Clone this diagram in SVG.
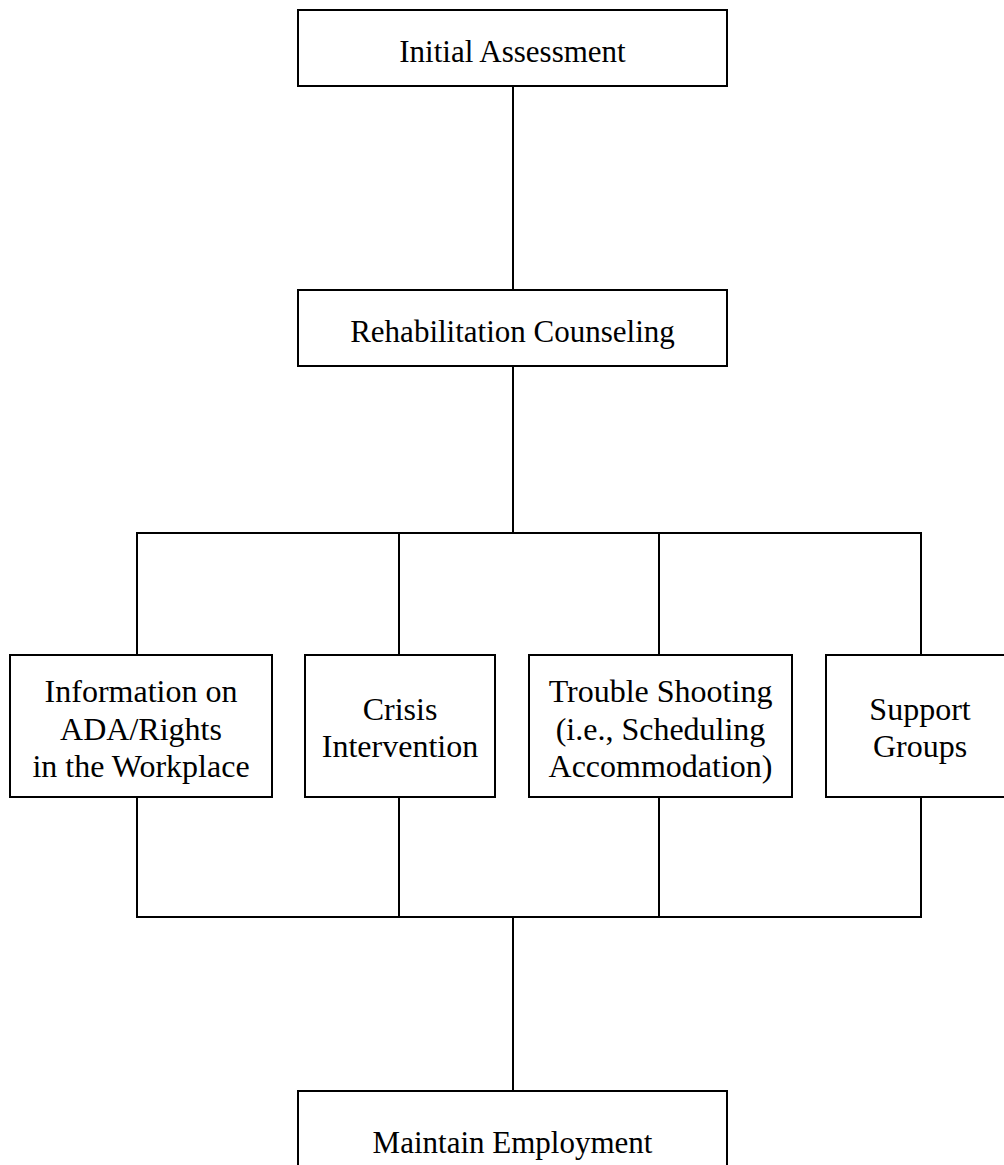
<svg xmlns="http://www.w3.org/2000/svg" width="1004" height="1165" viewBox="0 0 1004 1165">
<style>
.box{fill:#fff;stroke:#000;stroke-width:2}
.ln{stroke:#000;stroke-width:2;fill:none}
text{font-family:"Liberation Serif","Times New Roman",serif;font-size:31px;fill:#000;text-anchor:middle}
.sm{font-size:32px}
</style>
<rect width="1004" height="1165" fill="#fff"/>
<g id="connectors">
<line class="ln" x1="513" y1="86" x2="513" y2="290"/>
<line class="ln" x1="513" y1="366" x2="513" y2="533"/>
<polyline class="ln" points="137,655 137,533 921,533 921,655"/>
<line class="ln" x1="399" y1="533" x2="399" y2="655"/>
<line class="ln" x1="659" y1="533" x2="659" y2="655"/>
<polyline class="ln" points="137,797 137,917 921,917 921,797"/>
<line class="ln" x1="399" y1="797" x2="399" y2="917"/>
<line class="ln" x1="659" y1="797" x2="659" y2="917"/>
<line class="ln" x1="513" y1="917" x2="513" y2="1091"/>
</g>
<g id="initial-assessment">
<rect class="box" x="298" y="10" width="429" height="76"/>
<text x="512.5" y="62">Initial Assessment</text>
</g>
<g id="rehabilitation-counseling">
<rect class="box" x="298" y="290" width="429" height="76"/>
<text x="512.5" y="342">Rehabilitation Counseling</text>
</g>
<g id="information-ada">
<rect class="box" x="10" y="655" width="262" height="142"/>
<text class="sm" x="141" y="702">Information on</text>
<text class="sm" x="141" y="740">ADA/Rights</text>
<text class="sm" x="141" y="777">in the Workplace</text>
</g>
<g id="crisis-intervention">
<rect class="box" x="305" y="655" width="190" height="142"/>
<text class="sm" x="400" y="720">Crisis</text>
<text class="sm" x="400" y="757">Intervention</text>
</g>
<g id="trouble-shooting">
<rect class="box" x="529" y="655" width="263" height="142"/>
<text class="sm" x="660.5" y="702">Trouble Shooting</text>
<text class="sm" x="660.5" y="740">(i.e., Scheduling</text>
<text class="sm" x="660.5" y="777">Accommodation)</text>
</g>
<g id="support-groups">
<rect class="box" x="826" y="655" width="190" height="142"/>
<text class="sm" x="920" y="720">Support</text>
<text class="sm" x="920" y="757">Groups</text>
</g>
<g id="maintain-employment">
<rect class="box" x="298" y="1091" width="429" height="90"/>
<text x="512.5" y="1153">Maintain Employment</text>
</g>
</svg>
